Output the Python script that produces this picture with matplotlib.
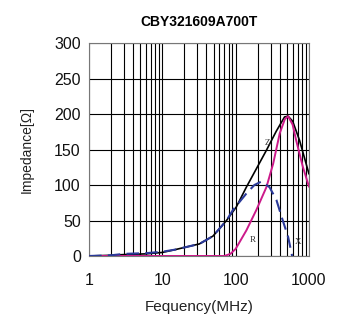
import matplotlib
matplotlib.use("Agg")
import matplotlib.pyplot as plt
import numpy as np

plt.rcParams['font.family'] = ['Liberation Sans', 'DejaVu Sans']

title = "CBY321609A700T"
z_f = [1, 2, 3, 6, 10, 15, 32, 49, 75, 102, 140, 192, 263, 359, 465, 520, 600, 745, 1000]
z_v = [0, 1, 2, 3, 5, 9, 17, 28, 50, 69, 97, 123, 149, 176, 196, 197, 190, 163, 116]
r_f = [1, 10, 70, 85, 100, 140, 192, 263, 325, 400, 470, 520, 600, 670, 825, 1000]
r_v = [0, 0, 0, 3, 10, 36, 65, 97, 130, 173, 193, 197, 185, 163, 126, 98]
x_f = [1, 2, 3, 6, 10, 15, 32, 49, 75, 92, 140, 180, 225, 290, 360, 440, 520, 590]
x_v = [0, 1, 3, 4, 6, 9, 17, 28, 50, 65, 88, 100, 105, 97, 79, 50, 27, 0]
yticks = [0, 50, 100, 150, 200, 250, 300]
xticks = [1, 10, 100, 1000]

fig = plt.figure(figsize=(3.44, 3.22), dpi=100)
ax = fig.add_axes([0.259, 0.205, 0.639, 0.661])
ax.set_xscale('log')
ax.set_xlim(1, 1000)
ax.set_ylim(0, 300)

ax.plot(z_f, z_v, color='black', lw=1.2, zorder=3)
ax.plot(r_f, r_v, color='#cc1a8a', lw=1.4, zorder=3)
ax.plot(x_f, x_v, color='#2b3a99', lw=1.5, ls=(0, (6, 3)), zorder=4)

ax.grid(True, which='both', axis='x', color='black', lw=0.8)
ax.grid(True, which='major', axis='y', color='black', lw=0.8)
ax.set_yticks(yticks)
ax.set_xticks(xticks)
ax.set_xticklabels([str(t) for t in xticks])
ax.tick_params(which='both', length=0, labelsize=11.5, labelcolor='#111111')
ax.tick_params(axis='x', pad=12)
ax.tick_params(axis='y', pad=6)
for s in ax.spines.values():
    s.set_color('#777777')
    s.set_linewidth(0.8)

ax.set_title(title, fontsize=10, fontweight='bold', pad=12)
ax.set_xlabel('Fequency(MHz)', fontsize=11, labelpad=9, color='#222222')
ax.set_ylabel('Impedance[Ω]', fontsize=10, labelpad=15, color='#222222')

ax.text(251, 159, 'Z', fontsize=6.5, family='Liberation Serif', color='#333333', va='center')
ax.text(156, 22, 'R', fontsize=6.5, family='Liberation Serif', color='#333333', va='center')
ax.text(642, 20, 'X', fontsize=6.5, family='Liberation Serif', color='#333333', va='center')

fig.savefig('out.png', dpi=100)
